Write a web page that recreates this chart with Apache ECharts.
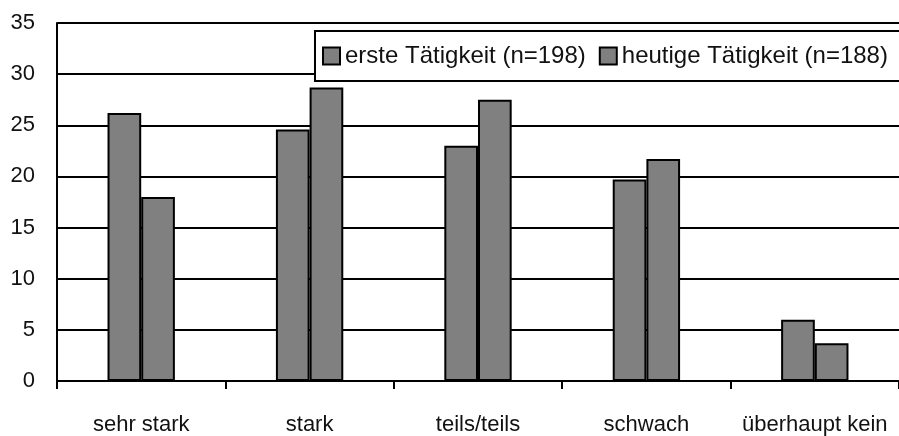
<!DOCTYPE html>
<html>
<head>
<meta charset="utf-8">
<script src="https://cdn.jsdelivr.net/npm/echarts@6/dist/echarts.min.js"></script>
<style>
html,body{margin:0;padding:0;background:#fff;}
#chart{width:899px;height:436px;}
</style>
</head>
<body>
<div id="chart"></div>
<script>
const categories = ['sehr stark', 'stark', 'teils/teils', 'schwach', 'überhaupt kein'];
const seriesNames = ['erste Tätigkeit (n=198)', 'heutige Tätigkeit (n=188)'];
const ersteValues = [26.2, 24.6, 23.0, 19.7, 6.0];
const heutigeValues = [18.0, 28.7, 27.5, 21.7, 3.7];
const yTicks = { min: 0, max: 35, interval: 5 };

const chart = echarts.init(document.getElementById('chart'));
const font = 'Liberation Sans';
const barStyle = { color: '#808080', borderColor: '#000', borderWidth: 2 };

chart.setOption({
  animation: false,
  backgroundColor: '#fff',
  textStyle: { fontFamily: font },
  grid: { left: 57, top: 23, width: 847, height: 358, containLabel: false },
  legend: {
    left: 315,
    top: 31,
    width: 700,
    orient: 'horizontal',
    backgroundColor: '#fff',
    borderColor: '#000',
    borderWidth: 2,
    borderRadius: 0,
    padding: [13, 90, 13, 7],
    itemWidth: 17,
    itemHeight: 17,
    itemGap: 13,
    textStyle: { fontFamily: font, fontSize: 24, color: '#111' },
    data: seriesNames.map(n => ({ name: n, icon: 'rect' })),
    selectedMode: false
  },
  xAxis: {
    type: 'category',
    data: categories,
    boundaryGap: true,
    axisLine: { show: true, lineStyle: { color: '#000', width: 2 } },
    axisTick: { show: true, alignWithLabel: false, length: 8, lineStyle: { color: '#000', width: 2 } },
    axisLabel: { fontFamily: font, fontSize: 22, color: '#111', margin: 33, interval: 0 },
    splitLine: { show: false }
  },
  yAxis: {
    type: 'value',
    min: yTicks.min,
    max: yTicks.max,
    interval: yTicks.interval,
    axisLine: { show: true, lineStyle: { color: '#000', width: 2 } },
    axisTick: { show: false },
    axisLabel: { fontFamily: font, fontSize: 22, color: '#111', margin: 22 },
    splitLine: { show: true, lineStyle: { color: '#000', width: 2 } }
  },
  series: [
    {
      name: seriesNames[0], type: 'bar', data: ersteValues,
      barGap: '0%', barCategoryGap: '60%',
      itemStyle: barStyle
    },
    {
      name: seriesNames[1], type: 'bar', data: heutigeValues,
      barGap: '0%', barCategoryGap: '60%',
      itemStyle: barStyle
    }
  ]
});
</script>
</body>
</html>
